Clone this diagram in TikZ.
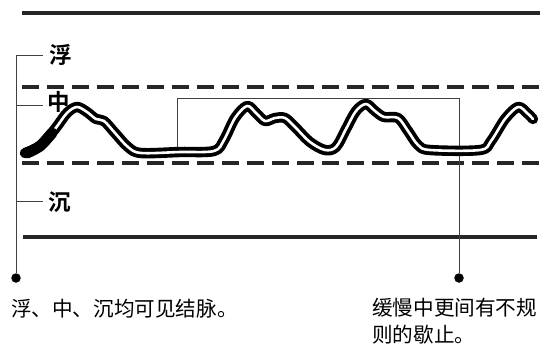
\documentclass[tikz,border=0pt]{standalone}
\usepackage{fontspec}
\newfontfamily\cjk{Noto Sans CJK SC}
\newfontfamily\cjkbold{Noto Sans CJK SC Bold}
\begin{document}
\begin{tikzpicture}[x=1pt,y=-1pt,
  solidline/.style={line width=4.2pt,black!85},
  dashline/.style={line width=3.8pt,black!85,dash pattern=on 17pt off 8pt},
  thin/.style={line width=0.7pt,black!75},
  lbl/.style={font=\cjkbold\fontsize{22.5pt}{22.5pt}\selectfont,inner sep=0pt},
  body/.style={font=\cjk\fontsize{20.6pt}{27pt}\selectfont,inner sep=0pt,align=left},
  dotmark/.style={circle,fill=black,inner sep=0pt,minimum size=9.5pt}]
\useasboundingbox (0,0) rectangle (546,348);
% horizontal lines
\draw[solidline] (22,13) -- (540,13);
\draw[solidline] (23,237) -- (537,237);
\draw[dashline] (22,87) -- (540,87);
\draw[dashline] (22,163) -- (540,163);
% left bracket
\node[dotmark] (dl) at (16,278) {};
\coordinate (lt) at (16,55);
\coordinate (lm) at (16,105);
\coordinate (lb) at (16,201);
\draw[thin] (lt) -- (dl);
\node[lbl] (fu) at (61,55) {浮};
\node[lbl] (zh) at (59,102) {中};
\node[lbl] (ch) at (60,202) {沉};
\draw[thin] (lt) -- (43,55);
\draw[thin] (lm) -- (43,105);
\draw[thin] (lb) -- (43,201);
% right bracket
\node[dotmark] (dr) at (459,278) {};
\coordinate (ra) at (177,150);
\coordinate (rb) at (177,98);
\coordinate (rc) at (459,98);
\draw[thin] (ra) -- (rb) -- (rc) -- (dr);
% waveform
\draw[line width=3.9pt,double=white,double distance=2.6pt,line cap=round,line join=round]
  plot[smooth,tension=0.55] coordinates {
  (25,153) (40,146) (55,129) (67,113) (77,107) (87,112) (96,119) (104,121)
  (115,133) (128,147) (141,153) (180,152) (214,151) (224,140) (235,118)
  (247,106) (256,113) (265,121) (275,118) (285,118) (295,127) (310,142)
  (325,150) (336,147) (346,129) (356,111) (366,104) (375,111) (384,117)
  (398,118) (408,131) (418,145) (430,150) (480,150) (491,141) (505,119)
  (518,107) (527,113) (533,119)};
\draw[line width=11pt,line cap=round,black]
  plot[smooth,tension=0.55] coordinates {(27,153) (40,146) (52,133)};
% texts
\node[body,anchor=base west] (t1) at (11,316) {浮、中、沉均可见结脉。};
\node[body,anchor=base west] (t2) at (372,342) {缓慢中更间有不规\\则的歇止。};
\end{tikzpicture}
\end{document}
